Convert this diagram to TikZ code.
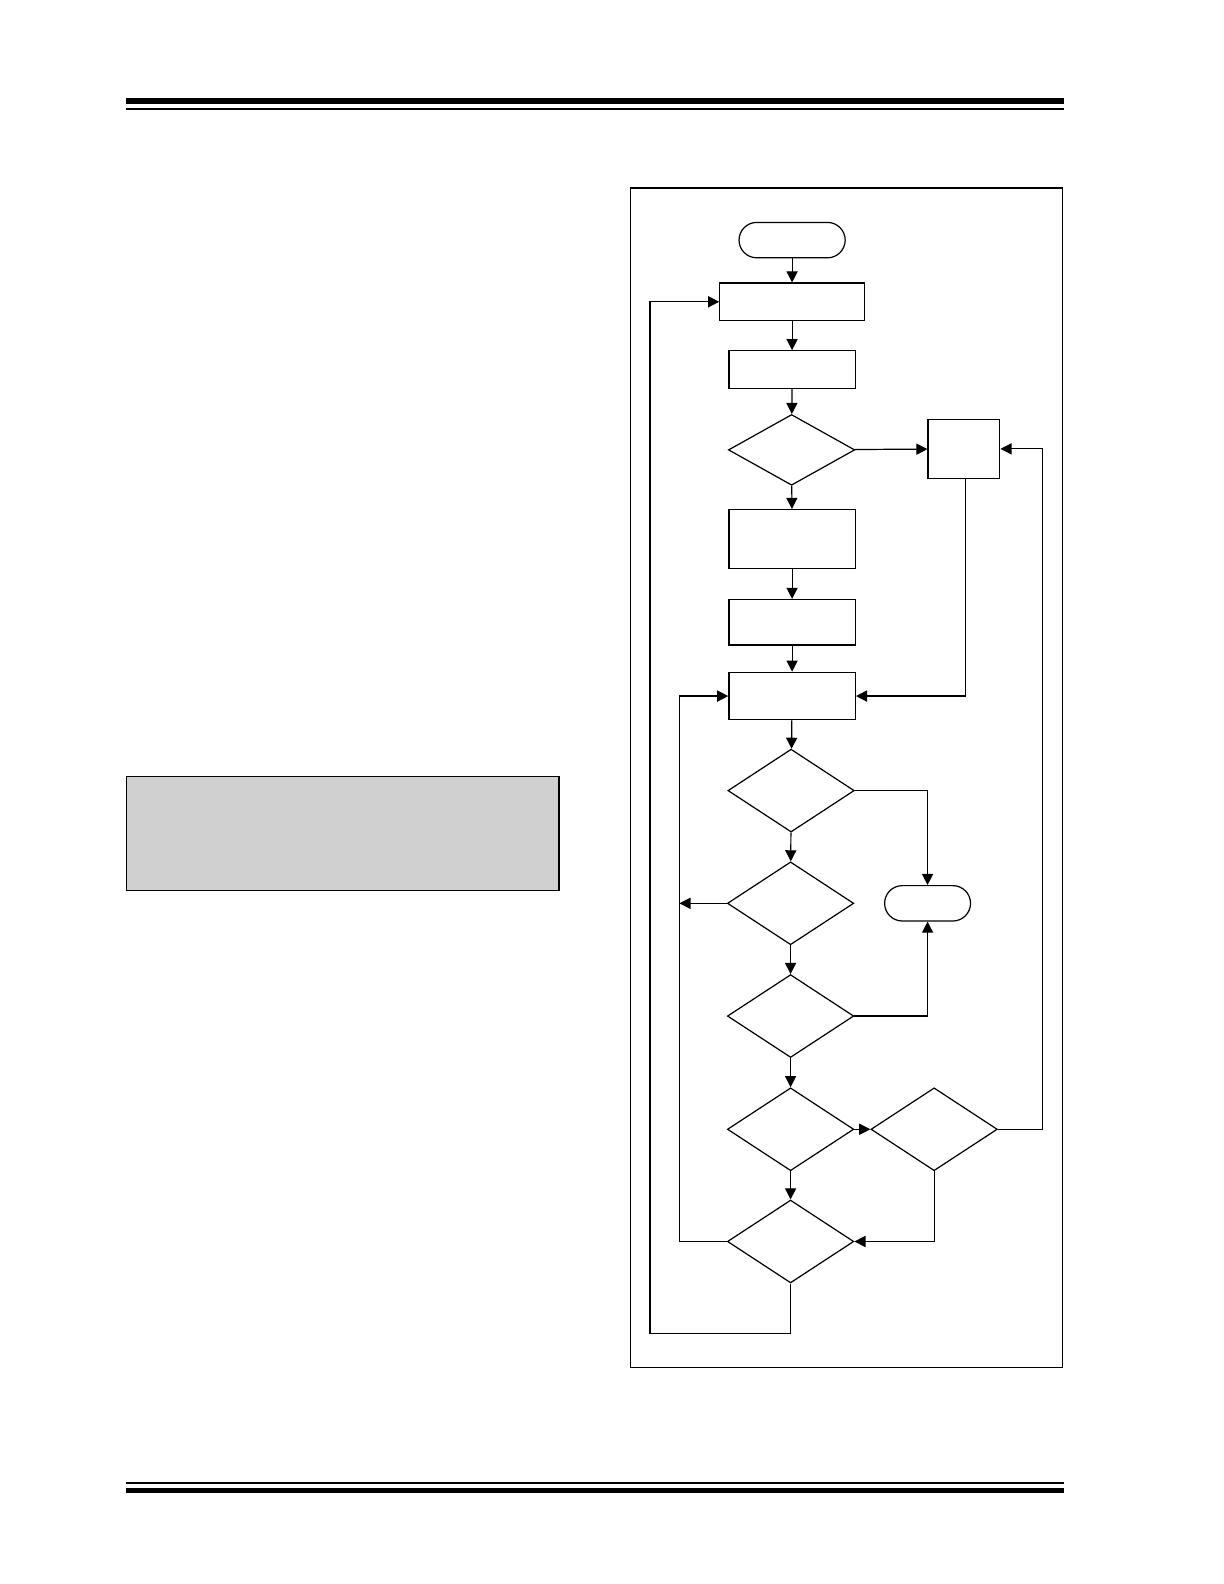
\documentclass[tikz,border=0pt]{standalone}
\usetikzlibrary{arrows.meta,shapes.geometric,shapes.misc,positioning}
\begin{document}
\begin{tikzpicture}[x=1pt,y=-1pt,line width=1.2pt,
  box/.style={draw,rectangle,inner sep=0pt},
  dia/.style={draw,diamond,inner sep=0pt,minimum width=125pt,minimum height=82pt},
  term/.style={draw,rounded rectangle,inner sep=0pt},
  arr/.style={-{Triangle[length=11pt,width=11pt]}},
  rule/.style={line width=#1}]
\useasboundingbox (0,0) rectangle (1210.7,1566.8);
% page rules
\draw[rule=5.5pt] (125,100) -- (1052,100);
\draw[rule=2.3pt] (125,108) -- (1052,108);
\draw[rule=2.3pt] (125,1467) -- (1052,1467);
\draw[rule=5.5pt] (125,1474.5) -- (1052,1474.5);
% grey note box
\node[box,fill={rgb,255:red,208;green,208;blue,208},minimum width=428pt,minimum height=113pt] (note) at (339,824.5) {};
% frame
\node[box,minimum width=427pt,minimum height=1167pt] (frame) at (837.5,769.5) {};
% flowchart nodes
\node[term,minimum width=105pt,minimum height=35pt] (start) at (783.5,237.5) {};
\node[box,minimum width=143pt,minimum height=37pt] (b1) at (783.5,298.5) {};
\node[box,minimum width=125pt,minimum height=37pt] (b2) at (783.5,365.5) {};
\node[dia,minimum height=70pt] (d1) at (783,445) {};
\node[box,minimum width=71pt,minimum height=58pt] (r) at (953.5,444) {};
\node[box,minimum width=125pt,minimum height=58pt] (b3) at (783.5,533) {};
\node[box,minimum width=125pt,minimum height=45pt] (b4) at (783.5,615.5) {};
\node[box,minimum width=125pt,minimum height=47pt] (b5) at (783.5,688.5) {};
\node[dia] (d2) at (782.5,782) {};
\node[dia] (d3) at (782,893.5) {};
\node[term,minimum width=85pt,minimum height=35pt] (end) at (917.5,893.5) {};
\node[dia] (d4) at (782,1005) {};
\node[dia] (d5) at (782,1117) {};
\node[dia] (d6) at (924,1117) {};
\node[dia] (d7) at (782,1228) {};
% helper coordinates
\coordinate (lx) at (672,893.5);
\coordinate (ll) at (643,1319);
\coordinate (rr) at (1031,1117);
% connectors
\draw[arr] (start) -- (b1);
\draw[arr] (b1) -- (b2);
\draw[arr] (b2) -- (d1);
\draw[arr] (d1) -- (r);
\draw[arr] (d1) -- (b3);
\draw[arr] (b3) -- (b4);
\draw[arr] (b4) -- (b5);
\draw[arr] ([xshift=1.5pt]r.south) |- (b5.east);
\draw[arr] (b5) -- (d2);
\draw[arr] (d2.east) -| (end.north);
\draw[arr] (d2) -- (d3);
\draw[arr] (d3.west) -- (lx);
\draw[arr] (d3) -- (d4);
\draw[arr] (d4.east) -| (end.south);
\draw[arr] (d4) -- (d5);
\draw[arr] (d5) -- (d6);
\draw[arr] (d5) -- (d7);
\draw[arr] (d6.east) -- (rr) |- (r.east);
\draw[arr] (d6.south) |- (d7.east);
\draw[arr] (d7.west) -| (lx) |- (b5.west);
\draw[arr] (d7.south) |- (ll) |- (b1.west);
\end{tikzpicture}
\end{document}
